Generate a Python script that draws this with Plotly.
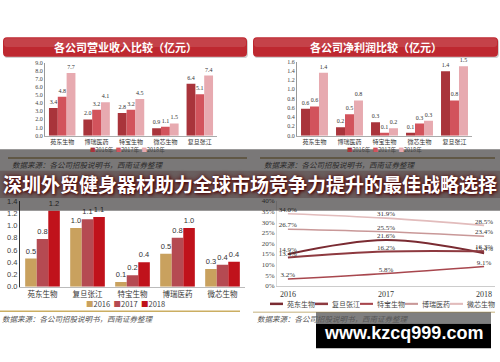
import plotly.graph_objects as go

W, H = 500, 362
def fx(x): return x / W
def fy(y): return 1 - y / H

# ---------------- data ----------------
rev_companies = ["苑东生物", "博瑞医药", "特宝生物", "微芯生物", "复旦张江"]
rev_2016 = [3.4, 2.0, 2.8, 0.9, 6.4]
rev_2017 = [4.8, 3.2, 3.2, 1.1, 5.1]
rev_2018 = [7.7, 4.1, 4.5, 1.5, 7.4]

profit_2016 = [0.58, 0.18, 0.29, 0.06, 1.39]
profit_2017 = [0.63, 0.46, 0.06, 0.26, 0.76]
profit_2018 = [1.36, 0.76, 0.16, 0.32, 1.50]

rd_companies = ["苑东生物", "复旦张江", "特宝生物", "博瑞医药", "微芯生物"]
rd_2016 = [0.46, 0.96, 0.08, 0.54, 0.29]
rd_2017 = [0.78, 1.10, 0.19, 0.80, 0.36]
rd_2018 = [1.24, 1.14, 0.40, 0.96, 0.41]

years = ["2016", "2017", "2018"]
ratio_names = ["苑东生物", "复旦张江", "特宝生物", "博瑞医药", "微芯生物"]
ratio_yuandong = [0.149, 0.216, 0.154]
ratio_fudan = [0.134, 0.162, 0.163]
ratio_tebao = [0.032, 0.058, 0.091]
ratio_borui = [0.267, 0.255, 0.234]
ratio_weixin = [0.340, 0.319, 0.285]

top_year_labels = ["2016年", "2017年", "2018年"]
bl_year_labels = ["2016", "2017", "2018"]
title_rev = "各公司营业收入比较（亿元）"
title_profit = "各公司净利润比较（亿元）"
source_text = "数据来源：各公司招股说明书，西南证券整理"
banner_text = "深圳外贸健身器材助力全球市场竞争力提升的最佳战略选择"
watermark_text = "www.kzcq999.com"

# ---------------- styles ----------------
top_colors = ["#A9343B", "#D2535C", "#E7AAB0"]
bl_colors = ["#C9A15E", "#B54A52", "#C0121B"]
line_colors = ["#7A2B32", "#8E3A40", "#A8474E", "#C99898", "#E2BCBC"]
line_widths = [2, 2, 1.6, 1.6, 1.6]
CJK = "Noto Sans CJK SC"
SERIF = "Liberation Serif"
SANS = "Liberation Sans"

fig = go.Figure()

def add_bars(xs, series, colors, names, xa, ya, fsize, ffam):
    for vals, c, n in zip(series, colors, names):
        fig.add_trace(go.Bar(
            x=xs, y=vals, name=n, marker=dict(color=c, line=dict(width=0)),
            texttemplate="%{y:.1f}", textposition="outside", constraintext="none",
            cliponaxis=False, textfont=dict(family=ffam, size=fsize, color="#333"),
            xaxis=xa, yaxis=ya, showlegend=False, hoverinfo="skip"))

add_bars(rev_companies, [rev_2016, rev_2017, rev_2018], top_colors, top_year_labels, "x", "y", 6, SERIF)
add_bars(rev_companies, [profit_2016, profit_2017, profit_2018], top_colors, top_year_labels, "x2", "y2", 6, SERIF)
add_bars(rd_companies, [rd_2016, rd_2017, rd_2018], bl_colors, bl_year_labels, "x3", "y3", 7.5, SANS)

ratios = [ratio_yuandong, ratio_fudan, ratio_tebao, ratio_borui, ratio_weixin]
for vals, n, c, w in zip(ratios, ratio_names, line_colors, line_widths):
    fig.add_trace(go.Scatter(
        x=years, y=vals, name=n, mode="lines+text", line=dict(color=c, width=w, shape="spline"),
        texttemplate="%{y:.1%}", textposition="top center", cliponaxis=False,
        textfont=dict(family=SERIF, size=7, color="#333"),
        xaxis="x4", yaxis="y4", showlegend=False, hoverinfo="skip"))

def xaxis(d0, d1, anchor, fsize, lc="#aaa"):
    return dict(domain=[fx(d0), fx(d1)], anchor=anchor, type="category", showgrid=False,
                zeroline=False, showline=True, linecolor=lc, linewidth=1, ticks="",
                tickfont=dict(family=CJK, size=fsize, color="#333"), fixedrange=True)

def yaxis(t0, t1, anchor, rng, dt, fmt, fsize, fam, lc="#999"):
    return dict(domain=[fy(t1), fy(t0)], anchor=anchor, range=rng, dtick=dt, tickformat=fmt,
                showgrid=False, zeroline=False, showline=True, linecolor=lc, linewidth=1,
                ticks="", tickfont=dict(family=fam, size=fsize, color="#444"), fixedrange=True)

shapes = []
annotations = []

def rrect(x0, y0, x1, y1, r):
    return (f"M {fx(x0+r)},{fy(y0)} L {fx(x1-r)},{fy(y0)} Q {fx(x1)},{fy(y0)} {fx(x1)},{fy(y0+r)} "
            f"L {fx(x1)},{fy(y1-r)} Q {fx(x1)},{fy(y1)} {fx(x1-r)},{fy(y1)} "
            f"L {fx(x0+r)},{fy(y1)} Q {fx(x0)},{fy(y1)} {fx(x0)},{fy(y1-r)} "
            f"L {fx(x0)},{fy(y0+r)} Q {fx(x0)},{fy(y0)} {fx(x0+r)},{fy(y0)} Z")

def title_bar(x0, x1, y0, y1, text):
    shapes.append(dict(type="path", xref="paper", yref="paper", path=rrect(x0+1, y0+1.5, x1+1, y1+1.5, 4),
                       fillcolor="rgba(0,0,0,0.18)", line=dict(width=0), layer="above"))
    shapes.append(dict(type="path", xref="paper", yref="paper", path=rrect(x0, y0, x1, y1, 4),
                       fillcolor="#BE2830", line=dict(width=0), layer="above"))
    shapes.append(dict(type="path", xref="paper", yref="paper", path=rrect(x0+1, y0+1, x1-1, (y0+y1)/2, 3),
                       fillcolor="rgba(255,255,255,0.12)", line=dict(width=0), layer="above"))
    annotations.append(dict(x=fx((x0+x1)/2), y=fy((y0+y1)/2), xref="paper", yref="paper", text=text,
                            showarrow=False, font=dict(family=CJK, size=11, color="white", weight=700),
                            xanchor="center", yanchor="middle"))

title_bar(3, 247, 34, 54, title_rev)
title_bar(253, 498, 34, 54, title_profit)

def sq_legend(cx, cy, colors, labels, fsize, sep):
    parts = [f"<span style='color:{c}'>■</span>{l}" for c, l in zip(colors, labels)]
    annotations.append(dict(x=fx(cx), y=fy(cy), xref="paper", yref="paper", text=sep.join(parts),
                            showarrow=False, font=dict(family=CJK, size=fsize, color="#444"),
                            xanchor="center", yanchor="middle"))

sq_legend(127, 150, top_colors, top_year_labels, 5.5, "  ")
sq_legend(384, 150, top_colors, top_year_labels, 5.5, "  ")
sq_legend(125, 307, bl_colors, bl_year_labels, 7.5, "  ")

# line legend bottom-right
for i, (n, c, w) in enumerate(zip(ratio_names, line_colors, line_widths)):
    x0 = 270 + 45 * i
    shapes.append(dict(type="line", xref="paper", yref="paper", x0=fx(x0), x1=fx(x0 + 13),
                       y0=fy(307.5), y1=fy(307.5), line=dict(color=c, width=w + 0.5)))
    annotations.append(dict(x=fx(x0 + 15), y=fy(307.5), xref="paper", yref="paper", text=n,
                            showarrow=False, font=dict(family=CJK, size=7, color="#444"),
                            xanchor="left", yanchor="middle"))

# source lines and texts
shapes.append(dict(type="line", xref="paper", yref="paper", x0=fx(8), x1=fx(247), y0=fy(158), y1=fy(158),
                   line=dict(color="#B29A66", width=1.5)))
shapes.append(dict(type="line", xref="paper", yref="paper", x0=fx(260), x1=fx(495), y0=fy(158), y1=fy(158),
                   line=dict(color="#B29A66", width=1.5)))
shapes.append(dict(type="line", xref="paper", yref="paper", x0=fx(0), x1=fx(240), y0=fy(315), y1=fy(315),
                   line=dict(color="#CBAE62", width=1.5)))
shapes.append(dict(type="line", xref="paper", yref="paper", x0=fx(253), x1=fx(495), y0=fy(316), y1=fy(316),
                   line=dict(color="#D8CBA8", width=1.5)))

# gray overlay band and banner
shapes.append(dict(type="rect", xref="paper", yref="paper", x0=0, x1=1, y0=fy(212), y1=fy(149),
                   fillcolor="rgba(18,14,14,0.56)", line=dict(width=0), layer="above"))
shapes.append(dict(type="rect", xref="paper", yref="paper", x0=0, x1=1, y0=fy(199), y1=fy(171),
                   fillcolor="rgba(45,5,5,0.22)", line=dict(width=0), layer="above"))

for x, y, col in [(10, 165, "#2a2a2a"), (262, 165, "#2a2a2a"), (0, 323, "#555"), (255, 323, "#555")]:
    annotations.append(dict(x=fx(x), y=fy(y), xref="paper", yref="paper", text=source_text,
                            showarrow=False, font=dict(family=CJK, size=7.5, color=col, style="italic"),
                            xanchor="left", yanchor="middle"))

annotations.append(dict(x=0.5, y=fy(184), xref="paper", yref="paper", text=banner_text, showarrow=False,
                        font=dict(family=CJK, size=19, color="white", weight=700,
                                  shadow="1px 1px 3px #4a0000, 0px 0px 5px #5a0a0a"),
                        xanchor="center", yanchor="middle"))

# watermark
shapes.append(dict(type="rect", xref="paper", yref="paper", x0=fx(316), x1=fx(491), y0=fy(328), y1=fy(316),
                   fillcolor="rgba(0,0,0,0.5)", line=dict(width=0), layer="above"))
shapes.append(dict(type="rect", xref="paper", yref="paper", x0=fx(316), x1=fx(491), y0=fy(353), y1=fy(328),
                   fillcolor="#000000", line=dict(width=0), layer="above"))
annotations.append(dict(x=fx(403.5), y=fy(337), xref="paper", yref="paper", text=watermark_text,
                        showarrow=False, font=dict(family=SANS, size=18, color="white", weight=700),
                        xanchor="center", yanchor="middle"))

fig.update_layout(
    width=W, height=H, autosize=False, margin=dict(l=0, r=0, t=0, b=0),
    paper_bgcolor="white", plot_bgcolor="rgba(0,0,0,0)",
    barmode="group", bargap=0.23, bargroupgap=0,
    showlegend=False,
    xaxis=xaxis(45, 217, "y", 6),
    yaxis=yaxis(60, 135, "x", [0, 9], 1, ".1f", 6, SERIF),
    xaxis2=xaxis(297, 472, "y2", 6),
    yaxis2=yaxis(59, 135, "x2", [0, 1.6], 0.2, ".1f", 6, SERIF),
    xaxis3=xaxis(20, 245, "y3", 7.5, lc="#bbb"),
    yaxis3=yaxis(202, 290, "x3", [0, 1.4], 0.2, ".1f", 7.5, SANS, lc="#333"),
    xaxis4=dict(xaxis(277, 495, "y4", 8, lc="#ccc"), tickfont=dict(family=SERIF, size=8, color="#333"),
                ticklabelstandoff=1),
    yaxis4=yaxis(202, 289, "x4", [0, 0.4], 0.05, ".0%", 7, SERIF, lc="#ddd"),
    shapes=shapes, annotations=annotations,
)

fig.write_html("out.html")
